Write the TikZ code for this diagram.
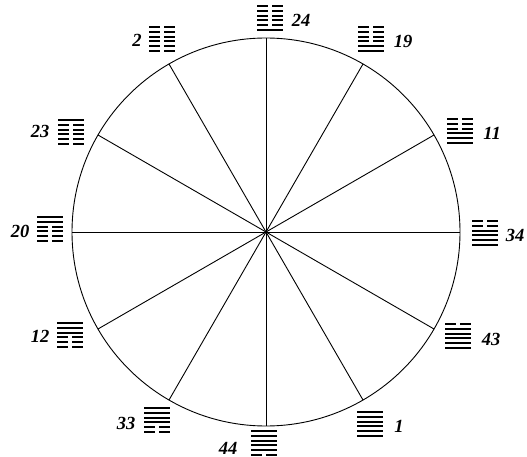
\documentclass[tikz,border=0pt]{standalone}
\usepackage{fontspec}
\setmainfont{Liberation Serif}
\usetikzlibrary{calc}
\newcommand{\hexgram}[2]{%
  \foreach \b [count=\i] in {#2} {
    \pgfmathsetmacro\yy{12-(\i-1)*4.8}
    \ifnum\b=1
      \draw[yao] ($(#1)+(-13,\yy)$) -- ++(26,0);
    \else
      \draw[yao] ($(#1)+(-13,\yy)$) -- ++(11,0) ++(4,0) -- ++(11,0);
    \fi
  }}
\begin{document}
\begin{tikzpicture}[x=1pt,y=-1pt,
  spoke/.style={line width=0.9pt},
  rim/.style={line width=0.9pt},
  num/.style={font=\fontsize{18.5}{18.5}\selectfont\bfseries\itshape, inner sep=0pt},
  yao/.style={line width=1.9pt}]
\useasboundingbox (0,0) rectangle (527,457);
\coordinate (O) at (266,232);
\draw[rim] (O) circle (194pt);
\foreach \k in {0,...,11} {
  \path (O) ++({194*sin(30*\k)},{-194*cos(30*\k)}) coordinate (p\k);
  \draw[spoke] (O) -- (p\k);
}
% hexagram positions
\coordinate (h24) at (270,18);
\coordinate (h19) at (371,39);
\coordinate (h11) at (460,131);
\coordinate (h34) at (485,233);
\coordinate (h43) at (458,336);
\coordinate (h1)  at (370,424);
\coordinate (h44) at (264,443);
\coordinate (h33) at (157,420);
\coordinate (h12) at (70,335);
\coordinate (h20) at (50,229);
\coordinate (h23) at (71,132);
\coordinate (h2)  at (162,39);
\hexgram{h24}{1,0,0,0,0,0}
\hexgram{h19}{1,1,0,0,0,0}
\hexgram{h11}{1,1,1,0,0,0}
\hexgram{h34}{1,1,1,1,0,0}
\hexgram{h43}{1,1,1,1,1,0}
\hexgram{h1}{1,1,1,1,1,1}
\hexgram{h44}{0,1,1,1,1,1}
\hexgram{h33}{0,0,1,1,1,1}
\hexgram{h12}{0,0,0,1,1,1}
\hexgram{h20}{0,0,0,0,1,1}
\hexgram{h23}{0,0,0,0,0,1}
\hexgram{h2}{0,0,0,0,0,0}
% numbers
\node[num] (n24) at (301,20) {24};
\node[num] (n19) at (403,41) {19};
\node[num] (n11) at (492,133) {11};
\node[num] (n34) at (515,235) {34};
\node[num] (n43) at (491,339) {43};
\node[num] (n1)  at (399,426) {1};
\node[num] (n44) at (228,448) {44};
\node[num] (n33) at (126,423) {33};
\node[num] (n12) at (40,336) {12};
\node[num] (n20) at (20,231) {20};
\node[num] (n23) at (40,131) {23};
\node[num] (n2)  at (137,40) {2};
\end{tikzpicture}
\end{document}
